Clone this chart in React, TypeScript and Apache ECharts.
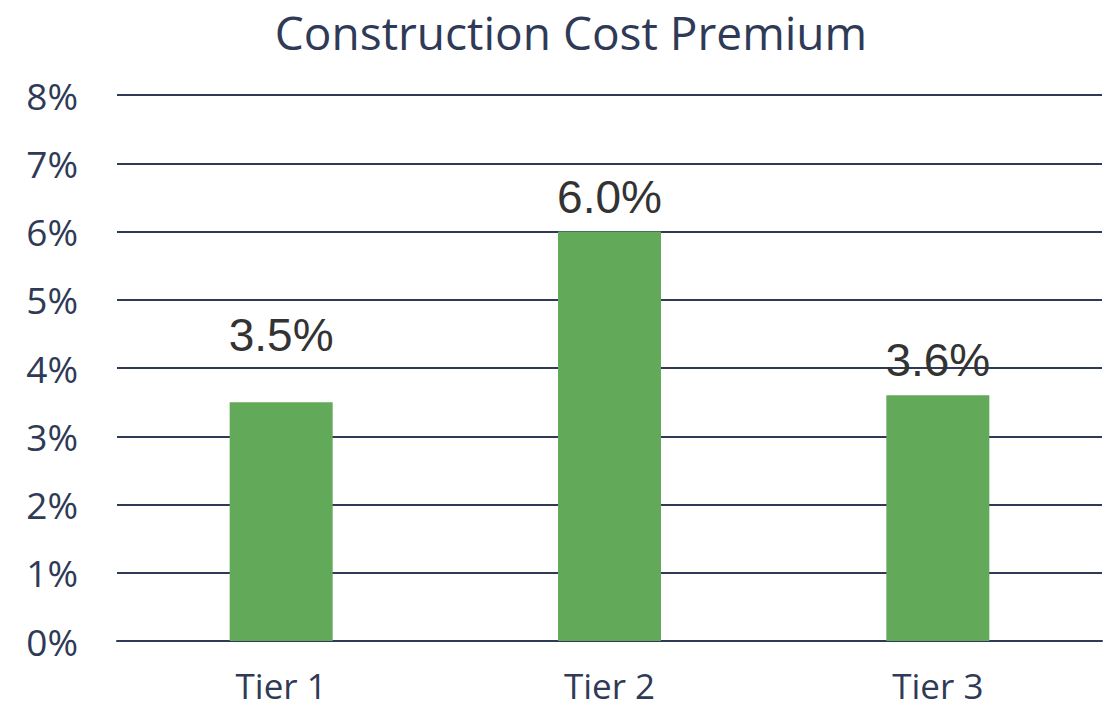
import React, { useEffect, useRef } from "react";
import * as echarts from "echarts";

const categories = ["Tier 1", "Tier 2", "Tier 3"];
const values = [3.5, 6.0, 3.6];
const labelLift = [32, 0, 0];
const yTicks = [0, 1, 2, 3, 4, 5, 6, 7, 8];

export default function App() {
  const ref = useRef<HTMLDivElement>(null);
  useEffect(() => {
    if (!ref.current) return;
    const chart = echarts.init(ref.current, null, { renderer: "svg" });
    const navy = "#2f3a57";
    chart.setOption({
      animation: false,
      title: {
        text: "Construction Cost Premium",
        left: 566,
        textAlign: "center",
        top: 2,
        textStyle: {
          fontFamily: "'Open Sans', sans-serif",
          fontWeight: "normal",
          fontSize: 46,
          lineHeight: 50,
          color: navy,
        },
      },
      grid: { left: 117, right: 4, top: 95, bottom: 70, containLabel: false },
      xAxis: {
        type: "category",
        data: categories,
        axisLine: { lineStyle: { color: navy, width: 2 } },
        axisTick: { show: false },
        axisLabel: {
          color: navy,
          fontSize: 35,
          lineHeight: 35,
          margin: 27,
          fontFamily: "'Open Sans', sans-serif",
        },
      },
      yAxis: {
        type: "value",
        min: yTicks[0],
        max: yTicks[yTicks.length - 1],
        interval: 1,
        axisLine: { show: false },
        axisTick: { show: false },
        axisLabel: {
          formatter: "{value}%",
          color: navy,
          fontSize: 37,
          margin: 39,
          fontFamily: "'Open Sans', sans-serif",
        },
        splitLine: { lineStyle: { color: navy, width: 2 } },
      },
      series: [
        {
          type: "bar",
          barWidth: 103,
          data: values.map((v, i) => ({
            value: v,
            label: { offset: [0, -labelLift[i]] },
          })),
          itemStyle: { color: "#62a95a" },
          label: {
            show: true,
            position: "top",
            distance: 12,
            formatter: (p: any) => p.value.toFixed(1) + "%",
            color: "#333333",
            fontSize: 46,
            fontFamily: "'Liberation Sans', Arial, sans-serif",
          },
        },
      ],
    });
    return () => chart.dispose();
  }, []);
  return <div ref={ref} style={{ width: 1106, height: 711, position: "fixed", left: 0, top: 0, background: "#fff" }} />;
}
